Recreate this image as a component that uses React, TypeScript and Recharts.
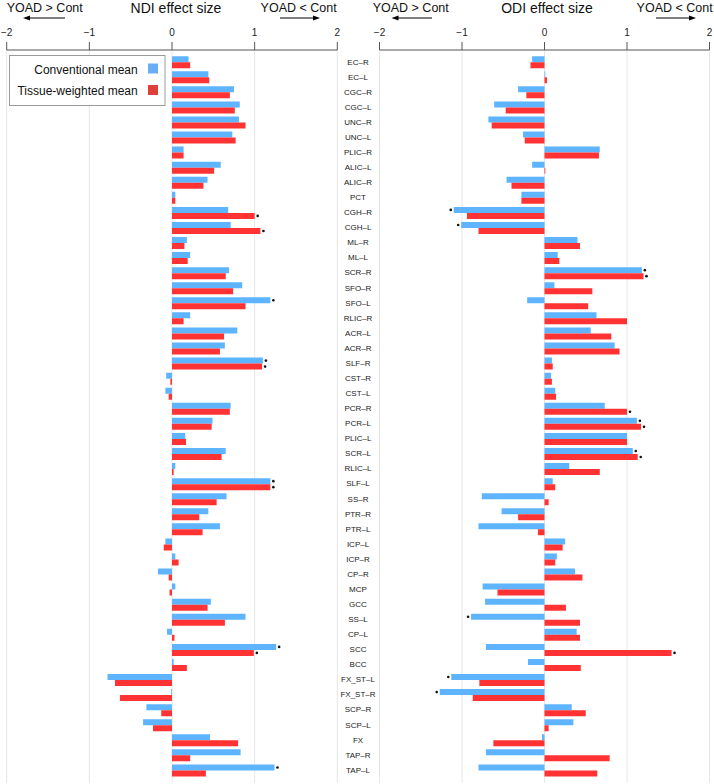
import React from 'react';
import { BarChart, Bar, XAxis, YAxis, CartesianGrid, LabelList } from 'recharts';

const FONT = '"Liberation Sans", Arial, Helvetica, sans-serif';
const BLUE = '#5eb4ff';
const RED = '#ff3333';

const categories = [
  'EC–R', 'EC–L', 'CGC–R', 'CGC–L', 'UNC–R', 'UNC–L', 'PLIC–R', 'ALIC–L', 'ALIC–R', 'PCT',
  'CGH–R', 'CGH–L', 'ML–R', 'ML–L', 'SCR–R', 'SFO–R', 'SFO–L', 'RLIC–R', 'ACR–L', 'ACR–R',
  'SLF–R', 'CST–R', 'CST–L', 'PCR–R', 'PCR–L', 'PLIC–L', 'SCR–L', 'RLIC–L', 'SLF–L', 'SS–R',
  'PTR–R', 'PTR–L', 'ICP–L', 'ICP–R', 'CP–R', 'MCP', 'GCC', 'SS–L', 'CP–L', 'SCC',
  'BCC', 'FX_ST–L', 'FX_ST–R', 'SCP–R', 'SCP–L', 'FX', 'TAP–R', 'TAP–L',
];

const ndiConv = [
  0.20, 0.44, 0.75, 0.82, 0.81, 0.73, 0.14, 0.59, 0.43, 0.04,
  0.68, 0.71, 0.18, 0.22, 0.69, 0.85, 1.19, 0.22, 0.79, 0.64,
  1.10, -0.07, -0.08, 0.71, 0.49, 0.16, 0.65, 0.04, 1.19, 0.66,
  0.44, 0.58, -0.08, 0.04, -0.17, 0.04, 0.47, 0.89, -0.06, 1.26,
  0.02, -0.78, -0.01, -0.31, -0.35, 0.46, 0.83, 1.24,
];
const ndiTissue = [
  0.22, 0.45, 0.70, 0.76, 0.89, 0.77, 0.14, 0.51, 0.38, 0.04,
  1.00, 1.07, 0.15, 0.19, 0.65, 0.74, 0.89, 0.14, 0.63, 0.58,
  1.09, -0.02, -0.04, 0.70, 0.48, 0.17, 0.60, 0.02, 1.19, 0.54,
  0.33, 0.37, -0.10, 0.08, -0.04, -0.03, 0.43, 0.64, 0.03, 0.99,
  0.18, -0.69, -0.63, -0.13, -0.23, 0.80, 0.22, 0.41,
];
const odiConv = [
  -0.15, 0.01, -0.32, -0.61, -0.68, -0.26, 0.67, -0.15, -0.46, -0.28,
  -1.10, -1.01, 0.40, 0.16, 1.18, 0.12, -0.21, 0.63, 0.56, 0.85,
  0.09, 0.08, 0.13, 0.73, 1.12, 1.00, 1.07, 0.30, 0.10, -0.76,
  -0.52, -0.80, 0.25, 0.15, 0.37, -0.75, -0.72, -0.89, 0.39, -0.71,
  -0.20, -1.13, -1.27, 0.33, 0.35, -0.03, -0.71, -0.80,
];
const odiTissue = [
  -0.17, 0.03, -0.22, -0.47, -0.64, -0.24, 0.66, 0.01, -0.40, -0.28,
  -0.94, -0.80, 0.43, 0.18, 1.20, 0.58, 0.53, 1.00, 0.81, 0.91,
  0.10, 0.09, 0.14, 1.00, 1.17, 1.00, 1.13, 0.67, 0.13, 0.05,
  -0.32, -0.08, 0.22, 0.13, 0.46, -0.57, 0.26, 0.43, 0.43, 1.54,
  0.44, -0.79, -0.87, 0.50, 0.05, -0.62, 0.79, 0.64,
];

const ndiConvSig = ['SFO–L', 'SLF–R', 'SLF–L', 'SCC', 'TAP–L'];
const ndiTissueSig = ['CGH–R', 'CGH–L', 'SLF–R', 'SLF–L', 'SCC'];
const odiConvSig = ['CGH–R', 'CGH–L', 'SCR–R', 'PCR–L', 'SCR–L', 'SS–L', 'FX_ST–L', 'FX_ST–R'];
const odiTissueSig = ['SCR–R', 'PCR–R', 'PCR–L', 'SCR–L', 'SCC'];

const xTicks = [-2, -1, 0, 1, 2];

const rows = categories.map((name, i) => ({
  name,
  ndiConv: ndiConv[i],
  ndiTissue: ndiTissue[i],
  odiConv: odiConv[i],
  odiTissue: odiTissue[i],
  ndiConvDot: ndiConvSig.includes(name) ? ndiConv[i] : null,
  ndiTissueDot: ndiTissueSig.includes(name) ? ndiTissue[i] : null,
  odiConvDot: odiConvSig.includes(name) ? odiConv[i] : null,
  odiTissueDot: odiTissueSig.includes(name) ? odiTissue[i] : null,
}));

const Dot = (props: any) => {
  const { value } = props;
  if (value === null || value === undefined || value === '') return null;
  const vb = props.viewBox || {};
  const x0 = Number(props.x ?? vb.x);
  const w = Number(props.width ?? vb.width);
  const y0 = Number(props.y ?? vb.y);
  const h = Number(props.height ?? vb.height);
  const left = Math.min(x0, x0 + w);
  const right = Math.max(x0, x0 + w);
  const cx = Number(value) >= 0 ? right + 3 : left - 3;
  const cy = Math.min(y0, y0 + h) + Math.abs(h) / 2;
  return <circle cx={cx} cy={cy} r={1.3} fill="#111" />;
};

const TopTick = (props: any) => {
  const { x, payload } = props;
  const v = Number(payload.value);
  const label = v < 0 ? `−${Math.abs(v)}` : `${v}`;
  return (
    <text x={x} y={36} textAnchor="middle" fontSize={10} fontFamily={FONT} fill="#222">
      {label}
    </text>
  );
};

const CatTick = (props: any) => {
  const { y, payload } = props;
  return (
    <text x={358} y={y} dy="0.35em" textAnchor="middle" fontSize={8} fontFamily={FONT} fill="#222">
      {payload.value}
    </text>
  );
};

const H = 784;
const PAD = { top: 4.2, bottom: 5.5 };

const Arrow = ({ x1, x2, y }: { x1: number; x2: number; y: number }) => {
  const dir = x2 > x1 ? 1 : -1;
  return (
    <g>
      <line x1={x1} y1={y} x2={x2 - dir * 5} y2={y} stroke="#000" strokeWidth={1} />
      <polygon points={`${x2},${y} ${x2 - dir * 7},${y - 2.5} ${x2 - dir * 7},${y + 2.5}`} fill="#000" />
    </g>
  );
};

export default function App() {
  return (
    <div style={{ position: 'absolute', left: 0, top: 0, width: 714, height: H, background: '#fff' }}>
      <div style={{ position: 'absolute', left: 0, top: 0 }}>
        <BarChart
          width={380}
          height={H}
          data={rows}
          layout="vertical"
          barGap={0}
          margin={{ top: 0, right: 0, bottom: 1, left: 6.7 }}
        >
          <CartesianGrid horizontal={false} stroke="#e6e6e6" />
          <XAxis
            type="number"
            orientation="top"
            domain={[-2, 2]}
            ticks={xTicks}
            height={50}
            tickSize={8}
            tick={<TopTick />}
            stroke="#555"
            allowDataOverflow
          />
          <YAxis
            type="category"
            dataKey="name"
            orientation="right"
            width={42.7}
            axisLine={false}
            tickLine={false}
            interval={0}
            tick={<CatTick />}
            padding={PAD}
          />
          <Bar dataKey="ndiConv" fill={BLUE} barSize={6} isAnimationActive={false}>
            <LabelList dataKey="ndiConvDot" content={<Dot />} />
          </Bar>
          <Bar dataKey="ndiTissue" fill={RED} barSize={6} isAnimationActive={false}>
            <LabelList dataKey="ndiTissueDot" content={<Dot />} />
          </Bar>
        </BarChart>
      </div>
      <div style={{ position: 'absolute', left: 0, top: 0 }}>
        <BarChart
          width={714}
          height={H}
          data={rows}
          layout="vertical"
          barGap={0}
          margin={{ top: 0, right: 4.5, bottom: 1, left: 379.5 }}
        >
          <CartesianGrid horizontal={false} stroke="#e6e6e6" />
          <XAxis
            type="number"
            orientation="top"
            domain={[-2, 2]}
            ticks={xTicks}
            height={50}
            tickSize={8}
            tick={<TopTick />}
            stroke="#555"
            allowDataOverflow
          />
          <YAxis type="category" dataKey="name" hide padding={PAD} />
          <Bar dataKey="odiConv" fill={BLUE} barSize={6} isAnimationActive={false}>
            <LabelList dataKey="odiConvDot" content={<Dot />} />
          </Bar>
          <Bar dataKey="odiTissue" fill={RED} barSize={6} isAnimationActive={false}>
            <LabelList dataKey="odiTissueDot" content={<Dot />} />
          </Bar>
        </BarChart>
      </div>
      <svg
        width={714}
        height={H}
        style={{ position: 'absolute', left: 0, top: 0, pointerEvents: 'none' }}
        fontFamily={FONT}
      >
        <text x={176} y={12.5} textAnchor="middle" fontSize={14} fill="#111">NDI effect size</text>
        <text x={6.7} y={11.5} fontSize={12.5} fill="#111">YOAD &gt; Cont</text>
        <Arrow x1={65} x2={23} y={18} />
        <text x={336.7} y={11.5} textAnchor="end" fontSize={12.5} fill="#111">YOAD &lt; Cont</text>
        <Arrow x1={280} x2={320} y={18} />

        <text x={547} y={12.5} textAnchor="middle" fontSize={14} fill="#111">ODI effect size</text>
        <text x={372.7} y={11.5} fontSize={12.5} fill="#111">YOAD &gt; Cont</text>
        <Arrow x1={432} x2={391.5} y={18} />
        <text x={712.7} y={11.5} textAnchor="end" fontSize={12.5} fill="#111">YOAD &lt; Cont</text>
        <Arrow x1={656} x2={696} y={18} />

        <rect x={9.5} y={55.5} width={155.5} height={50} fill="#fff" stroke="#9a9a9a" strokeWidth={1} />
        <text x={137.7} y={73.5} textAnchor="end" fontSize={12} fill="#111">Conventional mean</text>
        <rect x={148} y={63.5} width={10} height={10} fill="#6aaef5" />
        <text x={137.7} y={95} textAnchor="end" fontSize={12} fill="#111">Tissue-weighted mean</text>
        <rect x={148} y={85} width={10} height={10} fill="#e0403a" />
      </svg>
    </div>
  );
}
